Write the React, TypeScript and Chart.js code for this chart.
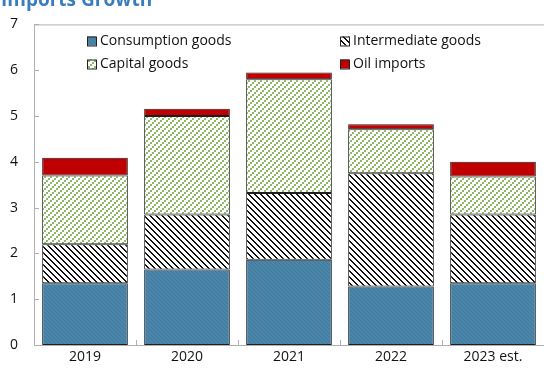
import React, { useEffect, useRef } from "react";
import { Chart, registerables } from "chart.js";

Chart.register(...registerables);

const categories = ["2019", "2020", "2021", "2022", "2023 est."];
const consumptionGoods = [1.35, 1.65, 1.86, 1.28, 1.35];
const intermediateGoods = [0.85, 1.2, 1.46, 2.47, 1.5];
const capitalGoods = [1.5, 2.15, 2.48, 0.96, 0.83];
const oilImports = [0.39, 0.16, 0.15, 0.11, 0.32];
const yTicks = [0, 1, 2, 3, 4, 5, 6, 7];
const titleText = "Imports Growth";

const FONT = "'Open Sans', 'Noto Sans', sans-serif";

function makeTile(size: number, draw: (c: CanvasRenderingContext2D) => void) {
  const c = document.createElement("canvas");
  c.width = size;
  c.height = size;
  const g = c.getContext("2d")!;
  draw(g);
  return c;
}

function buildPatterns(ctx: CanvasRenderingContext2D) {
  const blue = makeTile(4, (g) => {
    g.fillStyle = "#4a86aa";
    g.fillRect(0, 0, 4, 4);
    g.fillStyle = "#41789b";
    for (let i = 0; i < 4; i++) g.fillRect(i, i, 1, 1);
  });
  const black = makeTile(6, (g) => {
    g.fillStyle = "#ffffff";
    g.fillRect(0, 0, 6, 6);
    g.fillStyle = "#111111";
    for (let y = 0; y < 6; y++)
      for (let x = 0; x < 6; x++) {
        const d = (((x - y) % 6) + 6) % 6;
        if (d === 0 || d === 1) g.fillRect(x, y, 1, 1);
      }
  });
  const green = makeTile(6, (g) => {
    g.fillStyle = "#ffffff";
    g.fillRect(0, 0, 6, 6);
    g.fillStyle = "#8db967";
    g.fillRect(0, 4, 2, 2);
    g.fillRect(2, 2, 2, 2);
    g.fillRect(4, 0, 2, 2);
  });
  return {
    blue: ctx.createPattern(blue, "repeat")!,
    black: ctx.createPattern(black, "repeat")!,
    green: ctx.createPattern(green, "repeat")!,
  };
}

export default function App() {
  const ref = useRef<HTMLCanvasElement | null>(null);

  useEffect(() => {
    const canvas = ref.current!;
    const ctx = canvas.getContext("2d")!;
    const pat = buildPatterns(ctx);

    const legendItems = [
      { label: "Consumption goods", fill: pat.blue, col: 0, row: 0 },
      { label: "Intermediate goods", fill: pat.black, col: 1, row: 0 },
      { label: "Capital goods", fill: pat.green, col: 0, row: 1 },
      { label: "Oil imports", fill: "#c00000", col: 1, row: 1 },
    ];

    const framePlugin = {
      id: "frame",
      afterDraw(chart: any) {
        const c = chart.ctx as CanvasRenderingContext2D;
        const { left, right, top, bottom } = chart.chartArea;
        const ys = chart.scales.y;
        const xs = chart.scales.x;
        c.save();
        c.strokeStyle = "#b0b0b0";
        c.lineWidth = 1;
        c.beginPath();
        c.moveTo(left + 0.5, top);
        c.lineTo(left + 0.5, bottom + 0.5);
        c.lineTo(right, bottom + 0.5);
        c.moveTo(left, top + 0.5);
        c.lineTo(right, top + 0.5);
        yTicks.forEach((v) => {
          const py = Math.round(ys.getPixelForValue(v)) + 0.5;
          c.moveTo(left, py);
          c.lineTo(left + 5, py);
        });
        for (let i = 1; i < categories.length; i++) {
          const px =
            Math.round((xs.getPixelForTick(i - 1) + xs.getPixelForTick(i)) / 2) + 0.5;
          c.moveTo(px, bottom);
          c.lineTo(px, bottom - 5);
        }
        c.stroke();

        c.font = `14px ${FONT}`;
        c.textBaseline = "middle";
        const colX = [87, 340];
        const rowY = [41, 64];
        legendItems.forEach((it) => {
          const bx = colX[it.col];
          const by = rowY[it.row] - 4.5;
          c.fillStyle = it.fill as any;
          c.fillRect(bx, by, 9, 9);
          c.strokeStyle = "#222";
          c.strokeRect(bx + 0.5, by + 0.5, 9, 9);
          c.fillStyle = "#111";
          c.fillText(it.label, bx + 13, rowY[it.row]);
        });

        c.font = `bold 19px ${FONT}`;
        c.textBaseline = "alphabetic";
        c.fillStyle = "#3a7dbf";
        c.fillText(titleText, 1, 6);
        c.restore();
      },
    };

    const ds = (label: string, data: number[], bg: any) => ({
      label,
      data,
      backgroundColor: bg,
      borderColor: "#1e1e1e",
      borderWidth: 1,
      borderSkipped: false,
      categoryPercentage: 1,
      barPercentage: 0.84,
    });

    const chart = new Chart(canvas, {
      type: "bar",
      data: {
        labels: categories,
        datasets: [
          ds("Consumption goods", consumptionGoods, pat.blue),
          ds("Intermediate goods", intermediateGoods, pat.black),
          ds("Capital goods", capitalGoods, pat.green),
          ds("Oil imports", oilImports, "#c00000"),
        ],
      },
      options: {
        responsive: false,
        animation: false,
        layout: { padding: { top: 18, right: 3, left: 0, bottom: 0 } },
        plugins: {
          legend: { display: false },
          title: { display: false },
          tooltip: { enabled: false },
        },
        scales: {
          x: {
            stacked: true,
            grid: { display: false, drawTicks: false },
            border: { display: false },
            ticks: {
              padding: 4,
              color: "#111",
              font: { family: FONT, size: 14 },
            },
            afterFit: (s: any) => {
              s.height = 29;
            },
          },
          y: {
            stacked: true,
            min: 0,
            max: 7,
            grid: { display: false, drawTicks: false },
            border: { display: false },
            ticks: {
              stepSize: 1,
              padding: 16,
              color: "#111",
              font: { family: FONT, size: 14 },
            },
            afterFit: (s: any) => {
              s.width = 34;
            },
          },
        },
      },
      plugins: [framePlugin],
    });

    return () => chart.destroy();
  }, []);

  return (
    <div
      style={{
        position: "fixed",
        left: 0,
        top: 0,
        width: 547,
        height: 374,
        background: "#fff",
      }}
    >
      <canvas ref={ref} width={547} height={374} style={{ display: "block" }} />
    </div>
  );
}
